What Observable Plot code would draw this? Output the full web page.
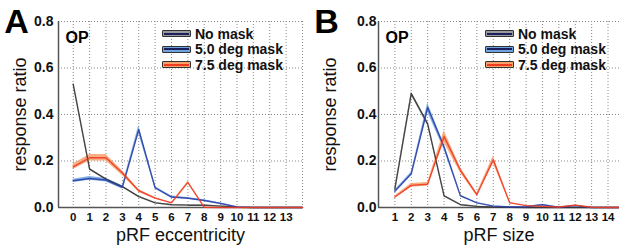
<!DOCTYPE html>
<html><head><meta charset="utf-8">
<script src="https://cdn.jsdelivr.net/npm/d3@7"></script>
<script src="https://cdn.jsdelivr.net/npm/@observablehq/plot@0.6"></script>
<style>
body{margin:0;background:#fff;font-family:"Liberation Sans",Arial,sans-serif;}
#wrap{position:relative;width:619px;height:248px;overflow:hidden;}
.panel{position:absolute;top:0;}
.legend{position:absolute;font-weight:bold;font-size:14px;color:#111;}
.legend .row{display:flex;align-items:center;height:15.5px;}
.sw{width:27px;height:5px;border:1px solid #333;border-radius:1px;margin-right:4px;position:relative;}
.sw i{position:absolute;left:1px;right:1px;top:1.5px;height:2px;}
</style></head>
<body><div id="wrap"></div>
<script>
// Panel A: pRF eccentricity
const eccX = [0,1,2,3,4,5,6,7,8,9,10,11,12,13,14];
const eccNoMask = [0.53,0.165,0.122,0.09,0.047,0.02,0.012,0.01,0.01,0.006,0.001,0,0,0,0];
const eccNoMaskErr = [0.004,0.004,0.003,0.003,0.002,0.002,0.001,0.001,0.001,0.001,0,0,0,0,0];
const ecc50 = [0.115,0.125,0.118,0.087,0.335,0.085,0.045,0.04,0.03,0.017,0.002,0,0,0,0];
const ecc50Err = [0.007,0.008,0.008,0.007,0.018,0.005,0.004,0.003,0.003,0.002,0.001,0,0,0,0];
const ecc75 = [0.175,0.214,0.214,0.148,0.072,0.04,0.02,0.108,0.001,0,0,0,0,0,0];
const ecc75Err = [0.012,0.014,0.014,0.01,0.005,0.003,0.002,0.004,0.001,0,0,0,0,0,0];
const eccTicks = [0,1,2,3,4,5,6,7,8,9,10,11,12,13];

// Panel B: pRF size
const sizeX = [1,2,3,4,5,6,7,8,9,10,11,12,13,14,15];
const sizeNoMask = [0.08,0.49,0.36,0.05,0.012,0.005,0.002,0.001,0,0,0,0,0,0,0];
const sizeNoMaskErr = [0.005,0.008,0.007,0.003,0.001,0.001,0,0,0,0,0,0,0,0,0];
const size50 = [0.07,0.145,0.43,0.26,0.05,0.02,0.006,0.002,0.003,0.012,0.001,0.008,0,0,0];
const size50Err = [0.005,0.007,0.02,0.012,0.004,0.002,0.001,0.001,0.001,0.002,0,0.001,0,0,0];
const size75 = [0.045,0.095,0.1,0.305,0.16,0.055,0.205,0.02,0.008,0.005,0.002,0.01,0.001,0,0];
const size75Err = [0.005,0.008,0.008,0.025,0.012,0.006,0.015,0.002,0.001,0.001,0,0.001,0,0,0];
const sizeTicks = [1,2,3,4,5,6,7,8,9,10,11,12,13,14];

const yTicks = [0,0.2,0.4,0.6,0.8];
const seriesNames = ["No mask","5.0 deg mask","7.5 deg mask"];
const lineColors = ["#333333","#2b3eaa","#f03a22"];
const bandColors = ["#9a9a9a","#6ea4de","#f6a06c"];

function rows(xs, vals, errs){ return xs.map((x,i)=>({x, y:vals[i], lo:Math.max(0,vals[i]-errs[i]), hi:vals[i]+errs[i]})); }

function panel({letter, xs, series, ticks, xDomain, xLabel, width, mLeft, mRight, yPad}){
  const marks = [
    Plot.gridY(yTicks, {stroke:"#888", strokeOpacity:1, strokeDasharray:"1,2"}),
    Plot.gridX(ticks.concat([xDomain[1]]), {stroke:"#888", strokeOpacity:1, strokeDasharray:"1,2"}),
    Plot.ruleY([0], {stroke:"#555", strokeWidth:1.5}),
    Plot.ruleX([xDomain[0]], {stroke:"#555", strokeWidth:1.5})
  ];
  series.forEach((s,i)=>{
    const d = rows(xs, s[0], s[1]);
    marks.push(Plot.areaY(d, {x:"x", y1:"lo", y2:"hi", fill:bandColors[i], fillOpacity:0.85}));
  });
  series.forEach((s,i)=>{
    const d = rows(xs, s[0], s[1]);
    marks.push(Plot.line(d, {x:"x", y:"y", stroke:lineColors[i], strokeWidth:1.4, strokeOpacity: 0.9}));
  });
  marks.push(
    Plot.axisX(ticks, {tickSize:0, tickPadding:5, fontWeight:"bold", fontSize:11.5, label:null, fill:"#111"}),
    Plot.axisY(yTicks, {tickSize:0, tickPadding:yPad, fontWeight:"bold", fontSize:14, label:null, tickFormat:d3.format(".1f"), fill:"#111"}),
    Plot.text([xLabel], {frameAnchor:"bottom", textAnchor:"middle", lineAnchor:"middle", dy:28, fontSize:18, fill:"#111"}),
    Plot.text(["response ratio"], {frameAnchor:"left", textAnchor:"middle", lineAnchor:"middle", dx:-(mLeft-20), rotate:-90, fontSize:18, fill:"#111"}),
    Plot.text([letter], {frameAnchor:"top-left", textAnchor:"middle", lineAnchor:"middle", dx:-(mLeft-16), dy:1, fontSize:34, fontWeight:"bold", fill:"#000"}),
    Plot.text(["OP"], {frameAnchor:"top-left", textAnchor:"start", lineAnchor:"middle", dx:7, dy:16, fontSize:16, fontWeight:"bold", fill:"#000"})
  );
  return Plot.plot({
    width, height:248, marginLeft:mLeft, marginRight:mRight, marginTop:21, marginBottom:41,
    style:{fontFamily:"'Liberation Sans', Arial, sans-serif", background:"transparent", overflow:"visible"},
    x:{domain:xDomain, axis:null},
    y:{domain:[0,0.8], axis:null},
    marks
  });
}

function legend(left){
  const el = document.createElement("div");
  el.className = "legend";
  el.style.left = left+"px"; el.style.top = "26px";
  seriesNames.forEach((n,i)=>{
    const r = document.createElement("div"); r.className = "row";
    r.innerHTML = `<span class="sw" style="background:${bandColors[i]}"><i style="background:${i===2?lineColors[2]:"#1c1f5e"}"></i></span><span>${n}</span>`;
    el.appendChild(r);
  });
  return el;
}

const wrap = document.getElementById("wrap");
const a = document.createElement("div"); a.className="panel"; a.style.left="0px";
a.appendChild(panel({letter:"A", xs:eccX, series:[[eccNoMask,eccNoMaskErr],[ecc50,ecc50Err],[ecc75,ecc75Err]], ticks:eccTicks, xDomain:[-0.9,14], xLabel:"pRF eccentricity", width:310, mLeft:58, mRight:8, yPad:5}));
wrap.appendChild(a);
a.appendChild(legend(162));
const b = document.createElement("div"); b.className="panel"; b.style.left="310px";
b.appendChild(panel({letter:"B", xs:sizeX, series:[[sizeNoMask,sizeNoMaskErr],[size50,size50Err],[size75,size75Err]], ticks:sizeTicks, xDomain:[0,14.7], xLabel:"pRF size", width:309, mLeft:68, mRight:0, yPad:2}));
b.appendChild(legend(175));
wrap.appendChild(b);
</script></body></html>
